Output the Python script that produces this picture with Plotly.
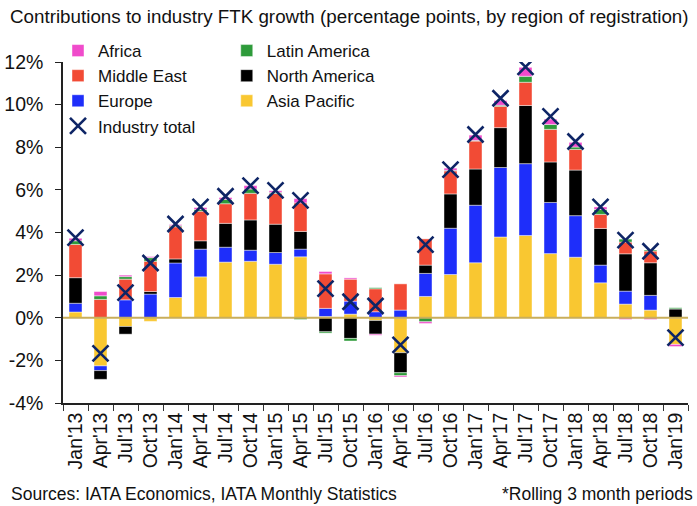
import plotly.graph_objects as go

periods = ["Jan'13","Apr'13","Jul'13","Oct'13","Jan'14","Apr'14","Jul'14","Oct'14",
           "Jan'15","Apr'15","Jul'15","Oct'15","Jan'16","Apr'16","Jul'16","Oct'16",
           "Jan'17","Apr'17","Jul'17","Oct'17","Jan'18","Apr'18","Jul'18","Oct'18","Jan'19"]

asia_pacific = [0.27, -2.26, -0.41, -0.17, 0.95, 1.92, 2.61, 2.65, 2.51, 2.86, 0.06, 0.17, -0.13,
                -1.64, 1.00, 2.03, 2.58, 3.79, 3.86, 3.01, 2.84, 1.64, 0.64, 0.36, -1.25]
europe = [0.41, -0.22, 0.84, 1.11, 1.62, 1.30, 0.70, 0.52, 0.55, 0.36, 0.38, 0.61, 0.28,
          0.36, 1.08, 2.17, 2.70, 3.26, 3.37, 2.40, 1.95, 0.83, 0.61, 0.69, 0.0]
north_america = [1.20, -0.41, -0.36, 0.12, 0.19, 0.39, 1.12, 1.42, 1.33, 0.83, -0.66, -0.97, -0.64,
                 -0.94, 0.39, 1.61, 1.70, 1.87, 2.73, 1.90, 2.14, 1.72, 1.75, 1.53, 0.42]
middle_east = [1.56, 0.86, 0.97, 1.42, 1.51, 1.39, 0.92, 1.25, 1.44, 1.34, 1.62, 1.03, 1.08,
               1.23, 1.23, 1.08, 1.31, 1.00, 1.09, 1.53, 0.97, 0.66, 0.55, 0.55, 0.0]
latin_america = [0.17, 0.17, 0.12, 0.17, 0.05, 0.08, 0.20, 0.20, 0.05, -0.08, -0.06, -0.12, 0.05,
                 -0.14, -0.19, 0.03, 0.03, 0.05, 0.28, 0.23, 0.11, 0.23, 0.14, 0.05, 0.05]
africa = [0.12, 0.20, 0.07, 0.05, 0.05, 0.09, 0.09, 0.16, 0.08, 0.20, 0.11, 0.06, -0.05,
          -0.06, -0.08, 0.10, 0.25, 0.22, 0.42, 0.25, 0.22, 0.12, -0.08, -0.08, -0.10]
industry_total = [3.76, -1.67, 1.18, 2.57, 4.40, 5.20, 5.70, 6.20, 5.98, 5.51, 1.37, 0.75, 0.55,
                  -1.27, 3.43, 6.95, 8.60, 10.30, 11.77, 9.45, 8.27, 5.20, 3.64, 3.12, -0.93]

y_ticks = [-4, -2, 0, 2, 4, 6, 8, 10, 12]
y_tick_labels = ["-4%", "-2%", "0%", "2%", "4%", "6%", "8%", "10%", "12%"]

FONT = "Liberation Sans, Arial, sans-serif"

# (name, values, colour, legend, rank) in stacking order
series = [
    ("Asia Pacific", asia_pacific, "#F9C731", "legend2", 3),
    ("Europe", europe, "#1E2EFA", "legend", 3),
    ("North America", north_america, "#000000", "legend2", 2),
    ("Middle East", middle_east, "#F24B35", "legend", 2),
    ("Latin America", latin_america, "#2E9B3A", "legend2", 1),
    ("Africa", africa, "#F04BCB", "legend", 1),
]

fig = go.Figure()
for name, vals, col, leg, rank in series:
    fig.add_trace(go.Bar(
        x=periods, y=vals, name=name, legend=leg, legendrank=rank,
        marker=dict(color=col, line=dict(color="rgba(255,255,255,0.55)", width=0.8)),
    ))

fig.add_trace(go.Scatter(
    x=periods, y=industry_total, name="Industry total", mode="markers",
    legend="legend", legendrank=4,
    marker=dict(symbol="x-thin", size=16, line=dict(color="#0E2566", width=2.6), color="#0E2566"),
))

fig.add_shape(type="line", xref="paper", yref="y", x0=0, x1=1, y0=0, y1=0,
              line=dict(color="#C9AE5B", width=1.8), layer="above")

legend_common = dict(
    orientation="v", xanchor="left", yanchor="top",
    font=dict(family=FONT, size=17, color="#111111"),
    bgcolor="rgba(0,0,0,0)", borderwidth=0, tracegroupgap=0,
)

PW = 625.0
PH = 341.0

fig.update_layout(
    width=697, height=506,
    margin=dict(l=63, r=9, t=62, b=103, autoexpand=False),
    paper_bgcolor="white", plot_bgcolor="white",
    barmode="relative", bargap=0.48,
    font=dict(family=FONT, size=16, color="#111111"),
    legend=dict(x=-0.008, y=1.085, **legend_common),
    legend2=dict(x=0.262, y=1.085, **legend_common),
    xaxis=dict(
        type="category", range=[-0.5, len(periods) - 0.5],
        tickangle=-90, tickson="boundaries",
        ticks="outside", ticklen=6, tickcolor="#333333", tickwidth=1.2,
        showline=True, linecolor="#222222", linewidth=1.5,
        tickfont=dict(family=FONT, size=19.5, color="#111111"),
        showgrid=False, zeroline=False,
    ),
    yaxis=dict(
        range=[-4, 12], tickvals=y_ticks, ticktext=y_tick_labels,
        ticks="outside", ticklen=6, tickcolor="#222222", tickwidth=1.2,
        showline=True, linecolor="#222222", linewidth=1.5,
        tickfont=dict(family=FONT, size=19.5, color="#111111"),
        showgrid=False, zeroline=False, ticklabelstandoff=8,
    ),
    annotations=[
        dict(text="Contributions to industry FTK growth (percentage points, by region of registration)",
             xref="paper", yref="paper", x=-55 / PW, y=1 + (61.7 - 16) / PH,
             xanchor="left", yanchor="middle", showarrow=False,
             font=dict(family=FONT, size=18.8, color="#111111")),
        dict(text="Sources: IATA Economics, IATA Monthly Statistics",
             xref="paper", yref="paper", x=-54 / PW, y=-(494 - 402.7) / PH,
             xanchor="left", yanchor="middle", showarrow=False,
             font=dict(family=FONT, size=17.5, color="#111111")),
        dict(text="*Rolling 3 month periods",
             xref="paper", yref="paper", x=(695 - 63) / PW, y=-(494 - 402.7) / PH,
             xanchor="right", yanchor="middle", showarrow=False,
             font=dict(family=FONT, size=17.5, color="#111111")),
    ],
)

fig.write_html("out.html", config={"displayModeBar": False},
               post_script="document.body.style.margin='0px';document.body.style.overflow='hidden';")
